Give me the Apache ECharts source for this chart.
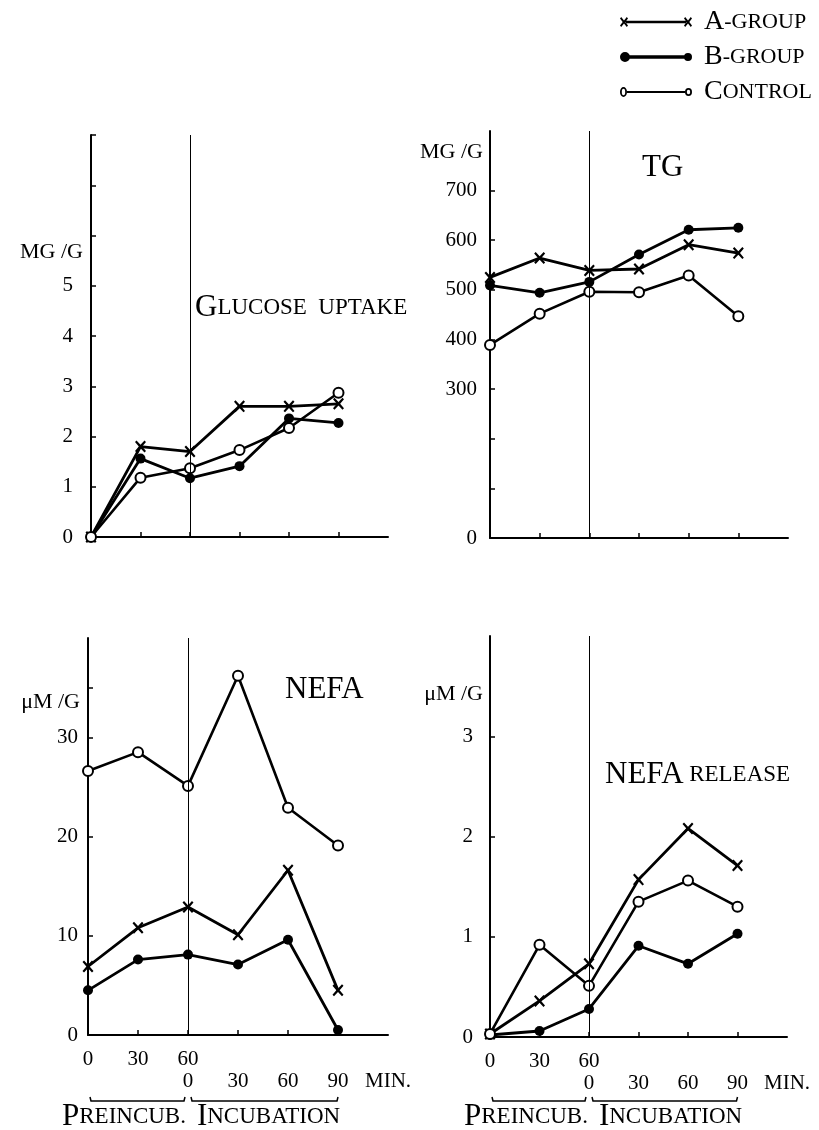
<!DOCTYPE html>
<html>
<head>
<meta charset="utf-8">
<script src="https://cdn.jsdelivr.net/npm/echarts@6/dist/echarts.min.js"></script>
<style>
  html, body { margin: 0; padding: 0; background: #fff; }
  #chart { width: 819px; height: 1130px; }
</style>
</head>
<body>
<div id="chart"></div>
<script>
// x positions: preincub 0/30/60 min, then incubation 30/60/90 min
const xPos = [0, 1, 2, 3, 4, 5]

// glucose uptake (mg/g)
const glucoseA = [0, 1.8, 1.7, 2.6, 2.6, 2.65]
const glucoseB = [0, 1.56, 1.17, 1.41, 2.36, 2.27]
const glucoseC = [0, 1.18, 1.37, 1.73, 2.17, 2.87]

// TG (mg/g)
const tgA = [525, 564, 539, 542, 591, 574]
const tgB = [509, 494, 516, 571, 621, 625]
const tgC = [389, 452, 496, 495, 529, 447]

// NEFA (uM/g)
const nefaA = [6.9, 10.8, 12.9, 10.1, 16.6, 4.5]
const nefaB = [4.5, 7.6, 8.1, 7.1, 9.6, 0.5]
const nefaC = [26.6, 28.5, 25.1, 36.2, 22.9, 19.1]

// NEFA release (uM/g)
const relA = [0.03, 0.36, 0.73, 1.57, 2.08, 1.71]
const relB = [0.02, 0.06, 0.28, 0.91, 0.73, 1.03]
const relC = [0.03, 0.92, 0.51, 1.35, 1.56, 1.30]

// tick labels
const glucoseLabels = [0, 1, 2, 3, 4, 5]
const glucoseTicks = [1, 2, 3, 4, 5, 6, 7, 8]
const tgLabels = [0, 300, 400, 500, 600, 700]
const tgTicks = [100, 200, 300, 400, 500, 600, 700]
const nefaLabels = [0, 10, 20, 30]
const nefaTicks = [10, 20, 30, 35]
const relLabels = [0, 1, 2, 3]
const relTicks = [1, 2, 3]
const xTicks = [1, 2, 3, 4, 5]
const preLabels = ['0', '30', '60']           // at x = 0,1,2
const incLabels = ['0', '30', '60', '90', 'MIN.'] // at x = 2..6

const FONT = 'Liberation Serif'

// symbols
const xIcon = 'path://M-4,-3.4 L-2.9,-4.5 L0,-1.3 L2.9,-4.5 L4,-3.4 L1.2,0 L4,3.4 L2.9,4.5 L0,1.3 L-2.9,4.5 L-4,3.4 L-1.2,0 Z'
const legendA = 'path://M0,1.4 L1.2,0 L4,3.6 L6.8,0 L8,1.4 L5.3,5 L8,8.6 L6.8,10 L4,6.4 L1.2,10 L0,8.6 L2.7,5 Z' +
  'M64,1.4 L65.2,0 L68,3.6 L70.8,0 L72,1.4 L69.3,5 L72,8.6 L70.8,10 L68,6.4 L65.2,10 L64,8.6 L66.7,5 Z' +
  'M6,3.8 L66,3.8 L66,6.2 L6,6.2 Z'
const legendB = 'path://M0,5 A5,5 0 1,1 10,5 A5,5 0 1,1 0,5 Z' +
  'M64,5 A4,4 0 1,1 72,5 A4,4 0 1,1 64,5 Z' +
  'M5,3.3 L68,3.3 L68,6.7 L5,6.7 Z'
const legendC = 'path://M0,5 A3.5,5 0 1,1 7,5 A3.5,5 0 1,1 0,5 Z M1.8,5 A1.7,3.2 0 1,0 5.2,5 A1.7,3.2 0 1,0 1.8,5 Z' +
  'M65,5 A3.5,4 0 1,1 72,5 A3.5,4 0 1,1 65,5 Z M66.8,5 A1.7,2.3 0 1,0 70.2,5 A1.7,2.3 0 1,0 66.8,5 Z' +
  'M7,3.9 L65,3.9 L65,6.1 L7,6.1 Z'

const chart = echarts.init(document.getElementById('chart'))

function pts (arr) {
  return xPos.map((x, i) => [x, arr[i]])
}

function seriesFor (gi, a, b, c) {
  return [
    {
      name: 'A-GROUP', type: 'line', xAxisIndex: gi, yAxisIndex: gi, data: pts(a),
      symbol: xIcon, symbolSize: [11, 12],
      lineStyle: { color: '#000', width: 2.8 }, itemStyle: { color: '#000' },
      markLine: {
        silent: true, symbol: ['none', 'none'], label: { show: false },
        lineStyle: { color: '#000', width: 1, type: 'solid' },
        data: [{ xAxis: 2 }]
      }
    },
    {
      name: 'B-GROUP', type: 'line', xAxisIndex: gi, yAxisIndex: gi, data: pts(b),
      symbol: 'circle', symbolSize: 10,
      lineStyle: { color: '#000', width: 2.8 }, itemStyle: { color: '#000' }
    },
    {
      name: 'CONTROL', type: 'line', xAxisIndex: gi, yAxisIndex: gi, data: pts(c),
      symbol: 'emptyCircle', symbolSize: 10,
      lineStyle: { color: '#000', width: 2.6 }, itemStyle: { color: '#000', borderWidth: 2 }
    }
  ]
}

function xAxisFor (gi, withLabels) {
  return {
    type: 'value', gridIndex: gi, min: 0, max: 6, interval: 1,
    axisLine: { lineStyle: { color: '#000', width: 2 } },
    axisTick: { inside: true, length: 5, customValues: xTicks, lineStyle: { color: '#000', width: 1.5 } },
    splitLine: { show: false },
    axisLabel: withLabels
      ? {
          show: true, margin: 13, color: '#000', fontFamily: FONT, fontSize: 21, lineHeight: 22,
          formatter: v => (preLabels[v] || '\u00a0') + '\n' + (incLabels[v - 2] || '\u00a0')
        }
      : { show: false }
  }
}

function yAxisFor (gi, max, labels, ticks, margin) {
  return {
    type: 'value', gridIndex: gi, min: 0, max: max,
    axisLine: { show: true, lineStyle: { color: '#000', width: 2 } },
    axisTick: { show: true, inside: true, length: 5, customValues: ticks, lineStyle: { color: '#000', width: 1.5 } },
    splitLine: { show: false },
    axisLabel: { customValues: labels, margin: margin, color: '#000', fontFamily: FONT, fontSize: 21 }
  }
}

const capsRich = function (big, small) {
  return {
    b: { fontFamily: FONT, fontSize: big, color: '#000' },
    s: { fontFamily: FONT, fontSize: small, color: '#000' }
  }
}

function label (x, y, text, rich, align) {
  return {
    type: 'text', x: x, y: y, silent: true,
    style: { text: text, rich: rich, align: align || 'left', verticalAlign: 'middle', fill: '#000', fontFamily: FONT, fontSize: 22 }
  }
}

const option = {
  backgroundColor: '#fff',
  animation: false,
  grid: [
    { left: 91, top: 135, width: 297, height: 402 },
    { left: 490, top: 131, width: 298, height: 407 },
    { left: 88, top: 638, width: 300, height: 397 },
    { left: 490, top: 636, width: 297, height: 401 }
  ],
  xAxis: [xAxisFor(0, false), xAxisFor(1, false), xAxisFor(2, true), xAxisFor(3, true)],
  yAxis: [
    yAxisFor(0, 8, glucoseLabels, glucoseTicks, 18),
    yAxisFor(1, 820, tgLabels, tgTicks, 13),
    yAxisFor(2, 40, nefaLabels, nefaTicks, 10),
    yAxisFor(3, 4, relLabels, relTicks, 17)
  ],
  legend: {
    orient: 'vertical', left: 615, top: 3, itemGap: 7,
    itemWidth: 72, itemHeight: 10,
    itemStyle: { borderWidth: 0 },
    textStyle: { rich: Object.assign(capsRich(28, 22), { p: { width: 7 } }) },
    formatter: n => '{p|}{b|' + n.charAt(0) + '}{s|' + n.slice(1) + '}',
    data: [
      { name: 'A-GROUP', icon: legendA },
      { name: 'B-GROUP', icon: legendB },
      { name: 'CONTROL', icon: legendC }
    ],
    selectedMode: false
  },
  series: [].concat(
    seriesFor(0, glucoseA, glucoseB, glucoseC),
    seriesFor(1, tgA, tgB, tgC),
    seriesFor(2, nefaA, nefaB, nefaC),
    seriesFor(3, relA, relB, relC)
  )
}

chart.setOption(option)

// panel titles, units and bottom brackets
const rich = capsRich(31, 23)
const graphics = [
  label(195, 308, '{b|G}{s|LUCOSE  UPTAKE}', rich),
  label(642, 168, '{b|TG}', rich),
  label(285, 690, '{b|NEFA}', rich),
  label(605, 775, '{b|NEFA} {s|RELEASE}', rich),
  label(83, 252, 'MG /G', null, 'right'),
  label(483, 152, 'MG /G', null, 'right'),
  label(80, 702, 'μM /G', null, 'right'),
  label(483, 694, 'μM /G', null, 'right')
]
;[2, 3].forEach(ai => {
  const p0 = chart.convertToPixel({ xAxisIndex: ai }, 0)
  const p2 = chart.convertToPixel({ xAxisIndex: ai }, 2)
  const p5 = chart.convertToPixel({ xAxisIndex: ai }, 5)
  const by = 1101
  graphics.push(
    { type: 'polyline', silent: true, shape: { points: [[p0 + 2, by - 4], [p0 + 3, by], [p2 - 4, by], [p2 - 3, by - 4]] }, style: { stroke: '#000', lineWidth: 1.5, fill: null } },
    { type: 'polyline', silent: true, shape: { points: [[p2 + 3, by - 4], [p2 + 4, by], [p5 - 1, by], [p5, by - 4]] }, style: { stroke: '#000', lineWidth: 1.5, fill: null } },
    label(p0 - 26, 1117, '{b|P}{s|REINCUB.}  {b|I}{s|NCUBATION}', rich)
  )
})
chart.setOption({ graphic: graphics })

window.addEventListener('resize', function () {
  chart.resize()
})
</script>
</body>
</html>
